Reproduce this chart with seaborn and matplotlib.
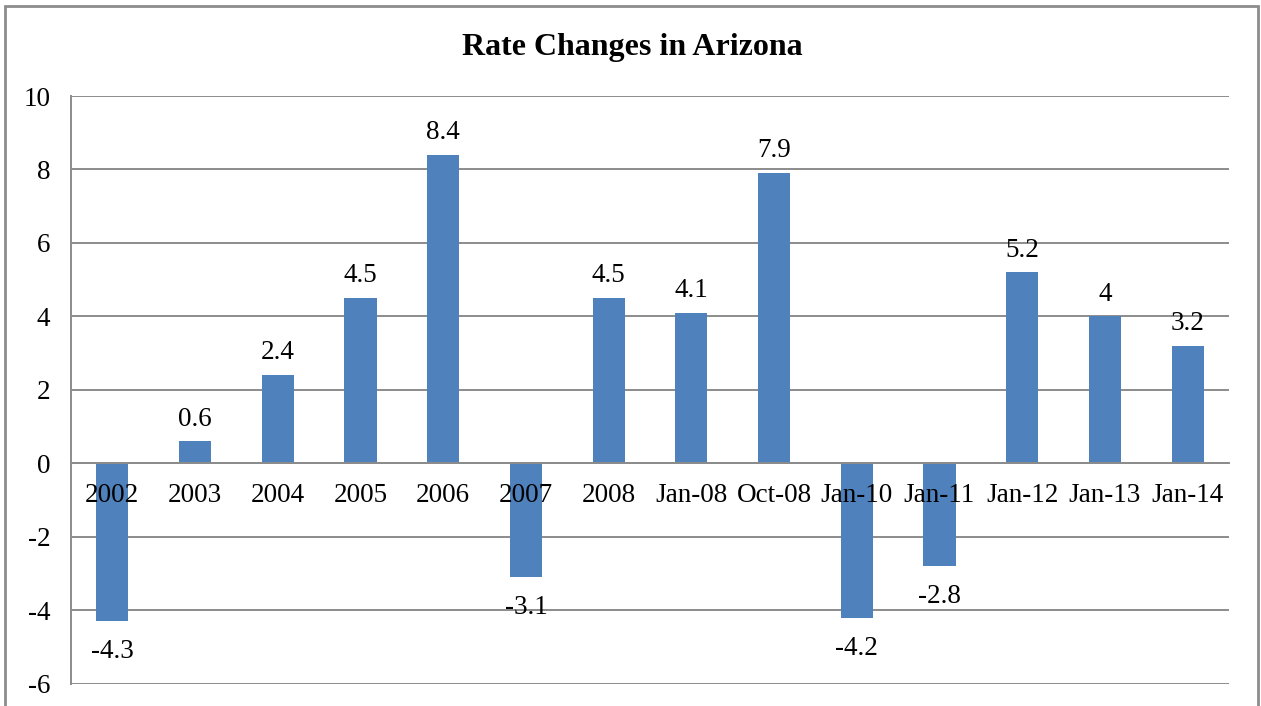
import matplotlib.pyplot as plt
import matplotlib.patches as patches
import seaborn as sns
import pandas as pd

# Chart values
periods = ["2002", "2003", "2004", "2005", "2006", "2007", "2008",
           "Jan-08", "Oct-08", "Jan-10", "Jan-11", "Jan-12", "Jan-13", "Jan-14"]
changes = [-4.3, 0.6, 2.4, 4.5, 8.4, -3.1, 4.5, 4.1, 7.9, -4.2, -2.8, 5.2, 4, 3.2]
bar_labels = ["-4.3", "0.6", "2.4", "4.5", "8.4", "-3.1", "4.5", "4.1", "7.9",
              "-4.2", "-2.8", "5.2", "4", "3.2"]
y_ticks = [-6, -4, -2, 0, 2, 4, 6, 8, 10]

sns.set_style("white")
plt.rcParams["font.family"] = ["Liberation Serif", "DejaVu Serif"]
plt.rcParams["text.color"] = "black"
plt.rcParams["ytick.labelcolor"] = "black"

df = pd.DataFrame({"Period": periods, "Change": changes})

fig = plt.figure(figsize=(12.61, 7.06), dpi=100)
ax = fig.add_axes([71 / 1261, 1 - 683.7 / 706, (1229 - 71) / 1261, (683.7 - 96) / 706])

bar_color = "#4F81BD"
grid_color = "#8C8C8C"
fs = 19.5

sns.barplot(data=df, x="Period", y="Change", color=bar_color, saturation=1,
            width=0.39, linewidth=0, ax=ax)

ax.set_ylim(-6, 10)
ax.set_xlim(-0.5, len(periods) - 0.5)
ax.set_yticks(y_ticks)
ax.set_yticklabels([str(t) for t in y_ticks], fontsize=fs, color="black")
ax.yaxis.grid(True, color=grid_color, linewidth=1.4)
ax.set_axisbelow(True)
ax.set_xlabel("")
ax.set_ylabel("")

# axis lines in Excel style: category axis at zero
for side in ["top", "right"]:
    ax.spines[side].set_visible(False)
ax.spines["bottom"].set_position(("data", 0))
ax.spines["bottom"].set_color(grid_color)
ax.spines["bottom"].set_linewidth(1.4)
ax.spines["left"].set_color(grid_color)
ax.spines["left"].set_linewidth(1.4)
ax.tick_params(axis="y", length=5, width=1.4, color=grid_color, pad=10)

# category labels are drawn on top of the bars, like the original
ax.set_xticks(range(len(periods)))
ax.set_xticklabels([])
ax.tick_params(axis="x", which="major", length=0)
ax.set_xticks([i - 0.5 for i in range(len(periods) + 1)], minor=True)
ax.tick_params(axis="x", which="minor", length=6, width=1.4, color=grid_color)
for i, name in enumerate(periods):
    ax.annotate(name, (i, 0), xytext=(0, -23), textcoords="offset points",
                ha="center", va="center", fontsize=fs, zorder=5)

# value labels above / below bars
for i, (v, lab) in enumerate(zip(changes, bar_labels)):
    if v >= 0:
        ax.annotate(lab, (i, v), xytext=(0, 7), textcoords="offset points",
                    ha="center", va="bottom", fontsize=fs)
    else:
        ax.annotate(lab, (i, v), xytext=(0, -13), textcoords="offset points",
                    ha="center", va="top", fontsize=fs)

fig.text(632 / 1261, 1 - 47 / 706, "Rate Changes in Arizona", ha="center", va="center",
         fontsize=23, fontweight="bold")

# outer chart border
border = patches.Rectangle((5 / 1261, -0.05), (1258 - 5) / 1261, 1 - 6 / 706 + 0.05,
                           transform=fig.transFigure, fill=False,
                           edgecolor=grid_color, linewidth=2)
fig.patches.append(border)

fig.savefig("out.png", dpi=100)
